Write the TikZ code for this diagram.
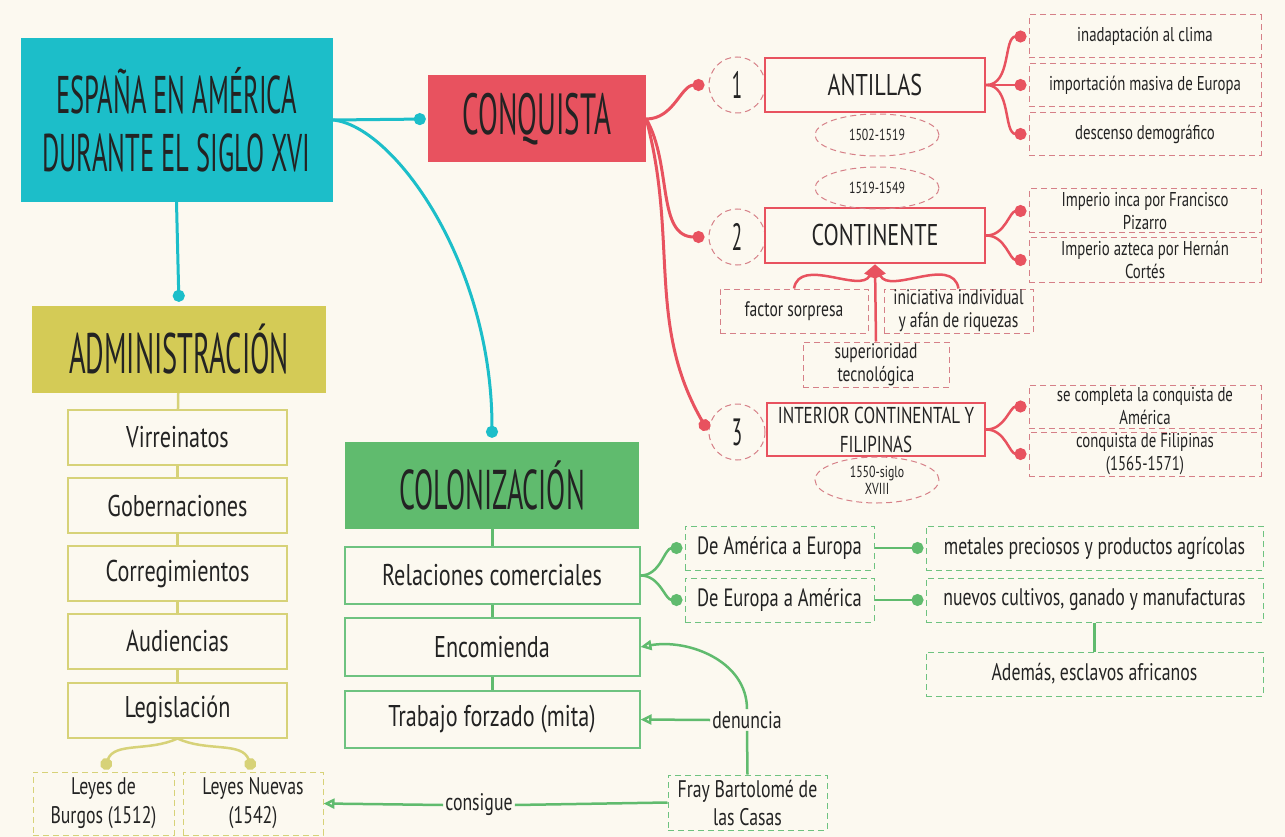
\documentclass[tikz,border=0pt]{standalone}
\usepackage{fontspec}
\setmainfont{PT Sans}[FakeStretch=0.74]
\newfontfamily\titulofont{PT Sans}[FakeStretch=0.5]
\usepackage{tikz}
\usetikzlibrary{positioning, arrows.meta, calc, shapes.geometric}
\definecolor{Fondo}{RGB}{252,249,240}
\definecolor{Turquesa}{RGB}{28,190,201}
\definecolor{Rojo}{RGB}{232,82,95}
\definecolor{Oliva}{RGB}{212,203,86}
\definecolor{Verde}{RGB}{96,187,110}
\definecolor{Texto}{RGB}{35,35,35}
\definecolor{RojoTenue}{RGB}{214,128,136}
\definecolor{OlivaLinea}{RGB}{215,210,120}
\definecolor{VerdeLinea}{RGB}{110,195,128}

\begin{document}
\begin{tikzpicture}[x=1pt, y=-1pt, text=Texto, font=\fontsize{30}{34}\selectfont,
  tema/.style={rectangle, inner sep=0pt, align=center},
  caja/.style={rectangle, draw, line width=2pt, fill=Fondo, inner sep=0pt, align=center},
  nota/.style={rectangle, draw, dash pattern=on 6pt off 4pt, line width=1pt, fill=Fondo, inner sep=0pt, align=center},
  fecha/.style={ellipse, draw=RojoTenue, dash pattern=on 6pt off 4pt, line width=1pt, minimum width=124, minimum height=42, inner sep=0pt, align=center, font=\fontsize{16}{17}\selectfont},
  numero/.style={circle, draw=RojoTenue, dash pattern=on 6pt off 4pt, line width=1pt, minimum size=56, inner sep=0pt, font=\titulofont\fontsize{38}{38}\selectfont},
  punto/.style={-{Circle[length=12pt]}, shorten >=2pt},
  abierta/.style={-{Triangle[open, length=11pt, width=10pt, fill=Fondo]}},
  etiqueta/.style={inner sep=2pt, font=\fontsize{24}{26}\selectfont}]
  \fill[Fondo] (0,0) rectangle (1285,837);
  \useasboundingbox (0,0) rectangle (1285,837);

  % temas principales
  \node[tema, fill=Turquesa, minimum width=312, minimum height=164, font=\titulofont\fontsize{53}{58}\selectfont] (espana) at (176.5,120) {ESPAÑA EN AMÉRICA\\DURANTE EL SIGLO XVI};
  \node[tema, fill=Rojo, minimum width=218, minimum height=87, font=\titulofont\fontsize{58}{60}\selectfont] (conquista) at (537,119) {CONQUISTA};
  \node[tema, fill=Oliva, minimum width=294, minimum height=87, font=\titulofont\fontsize{57}{60}\selectfont] (admin) at (179,349.5) {ADMINISTRACIÓN};
  \node[tema, fill=Verde, minimum width=294, minimum height=87, font=\titulofont\fontsize{56}{60}\selectfont] (colon) at (492,485.5) {COLONIZACIÓN};

  \draw[Turquesa, line width=3pt, punto] (espana.east) -- (conquista.west);
  \draw[Turquesa, line width=3pt, punto, shorten >=4pt] (espana.south) -- (admin.north);
  \draw[Turquesa, line width=3pt, punto, shorten >=4pt] (espana.east) .. controls +(60,5) and +(0,-180) .. (colon.north);

  % administracion
  \node[caja, draw=OlivaLinea, minimum width=219, minimum height=55] (virr) at (177.5,437.5) {Virreinatos};
  \node[caja, draw=OlivaLinea, minimum width=219, minimum height=55] (gob) at (177.5,505.5) {Gobernaciones};
  \node[caja, draw=OlivaLinea, minimum width=219, minimum height=55] (corr) at (177.5,573.5) {Corregimientos};
  \node[caja, draw=OlivaLinea, minimum width=219, minimum height=55] (aud) at (177.5,641.5) {Audiencias};
  \node[caja, draw=OlivaLinea, minimum width=219, minimum height=55] (leg) at (177.5,710) {Legislación};
  \node[nota, draw=OlivaLinea, minimum width=141, minimum height=63, font=\fontsize{24}{29}\selectfont] (burgos) at (103.5,803.5) {Leyes de\\Burgos (1512)};
  \node[nota, draw=OlivaLinea, minimum width=140, minimum height=63, font=\fontsize{24}{29}\selectfont] (nuevas) at (253,803.5) {Leyes Nuevas\\(1542)};

  \draw[OlivaLinea, line width=2.5pt] (admin) -- (virr);
  \draw[OlivaLinea, line width=2.5pt] (virr) -- (gob);
  \draw[OlivaLinea, line width=2.5pt] (gob) -- (corr);
  \draw[OlivaLinea, line width=2.5pt] (corr) -- (aud);
  \draw[OlivaLinea, line width=2.5pt] (aud) -- (leg);
  \draw[OlivaLinea, line width=2.5pt, punto] (leg.south) to[out=-155, in=70] (burgos.north);
  \draw[OlivaLinea, line width=2.5pt, punto] (leg.south) to[out=-25, in=110] (nuevas.north);

  % conquista
  \node[numero] (n1) at (737,85) {1};
  \node[numero] (n2) at (737,237) {2};
  \node[numero] (n3) at (737,432) {3};
  \node[caja, draw=Rojo, line width=2.5pt, minimum width=220, minimum height=54] (antillas) at (875,85) {ANTILLAS};
  \node[caja, draw=Rojo, line width=2.5pt, minimum width=220, minimum height=55] (conti) at (875,235.5) {CONTINENTE};
  \node[caja, draw=Rojo, line width=2.5pt, minimum width=218, minimum height=53, font=\fontsize{23}{29}\selectfont] (interior) at (876,429.5) {INTERIOR CONTINENTAL Y\\FILIPINAS};
  \node[fecha] (f1) at (877,135) {1502-1519};
  \node[fecha] (f2) at (877,188) {1519-1549};
  \node[fecha, minimum height=46] (f3) at (877,480) {1550-siglo\\XVIII};

  \node[nota, draw=RojoTenue, minimum width=232, minimum height=43, font=\fontsize{20}{23}\selectfont] (inad) at (1145,36.5) {inadaptación al clima};
  \node[nota, draw=RojoTenue, minimum width=232, minimum height=43, font=\fontsize{20}{23}\selectfont] (impor) at (1145,85) {importación masiva de Europa};
  \node[nota, draw=RojoTenue, minimum width=232, minimum height=43, font=\fontsize{20}{23}\selectfont] (desc) at (1145,134) {descenso demográfico};
  \node[nota, draw=RojoTenue, minimum width=232, minimum height=44, font=\fontsize{20}{23}\selectfont] (inca) at (1145,211) {Imperio inca por Francisco\\Pizarro};
  \node[nota, draw=RojoTenue, minimum width=232, minimum height=44, font=\fontsize{20}{23}\selectfont] (azteca) at (1145,260) {Imperio azteca por Hernán\\Cortés};
  \node[nota, draw=RojoTenue, minimum width=232, minimum height=43, font=\fontsize{20}{23}\selectfont] (completa) at (1145,406.5) {se completa la conquista de\\América};
  \node[nota, draw=RojoTenue, minimum width=232, minimum height=44, font=\fontsize{20}{23}\selectfont] (filipinas) at (1145,454) {conquista de Filipinas\\(1565-1571)};
  \node[nota, draw=RojoTenue, minimum width=148, minimum height=44, font=\fontsize{21}{23}\selectfont] (sorpresa) at (794,311) {factor sorpresa};
  \node[nota, draw=RojoTenue, minimum width=149, minimum height=44, font=\fontsize{21}{23}\selectfont] (iniciativa) at (958.5,311) {iniciativa individual\\y afán de riquezas};
  \node[nota, draw=RojoTenue, minimum width=146, minimum height=45, font=\fontsize{21}{23}\selectfont] (superior) at (876,364.5) {superioridad\\tecnológica};

  \draw[Rojo, line width=3pt, punto, shorten >=4pt] (conquista.east) to[out=0, in=180] (n1.west);
  \draw[Rojo, line width=3pt, punto, shorten >=4pt] (conquista.east) to[out=-60, in=180] (n2.west);
  \draw[Rojo, line width=3pt, punto, shorten >=2pt] (conquista.east) to[out=-75, in=120] (n3.west);
  \draw[Rojo, line width=2.5pt, punto] (antillas.east) to[out=0, in=180] (inad.west);
  \draw[Rojo, line width=2.5pt, punto] (antillas.east) -- (impor.west);
  \draw[Rojo, line width=2.5pt, punto] (antillas.east) to[out=0, in=180] (desc.west);
  \draw[Rojo, line width=2.5pt, punto] (conti.east) to[out=0, in=180] (inca.west);
  \draw[Rojo, line width=2.5pt, punto] (conti.east) to[out=0, in=180] (azteca.west);
  \draw[Rojo, line width=2.5pt, punto] (interior.east) to[out=0, in=180] (completa.west);
  \draw[Rojo, line width=2.5pt, punto] (interior.east) to[out=0, in=180] (filipinas.west);
  \draw[Rojo, line width=2.5pt, -{Triangle[length=13pt, width=11pt]}] (sorpresa.north) to[out=80, in=-115] (conti.south);
  \draw[Rojo, line width=2.5pt, -{Triangle[length=13pt, width=11pt]}] (iniciativa.north) to[out=100, in=-65] (conti.south);
  \draw[Rojo, line width=2.5pt, -{Triangle[length=13pt, width=11pt]}] (superior.north) -- (conti.south);

  % colonizacion
  \node[caja, draw=VerdeLinea, minimum width=295, minimum height=57] (relac) at (492,575.5) {Relaciones comerciales};
  \node[caja, draw=VerdeLinea, minimum width=295, minimum height=58] (encom) at (492,647) {Encomienda};
  \node[caja, draw=VerdeLinea, minimum width=295, minimum height=57] (trabajo) at (492,719.5) {Trabajo forzado (mita)};
  \node[nota, draw=VerdeLinea, minimum width=189, minimum height=44, font=\fontsize{25}{28}\selectfont] (amereu) at (779.5,548) {De América a Europa};
  \node[nota, draw=VerdeLinea, minimum width=189, minimum height=44, font=\fontsize{25}{28}\selectfont] (euramer) at (779.5,600) {De Europa a América};
  \node[nota, draw=VerdeLinea, minimum width=337, minimum height=44, font=\fontsize{24}{28}\selectfont] (metales) at (1094.5,548) {metales preciosos y productos agrícolas};
  \node[nota, draw=VerdeLinea, minimum width=337, minimum height=44, font=\fontsize{24}{28}\selectfont] (cultivos) at (1094.5,600) {nuevos cultivos, ganado y manufacturas};
  \node[nota, draw=VerdeLinea, minimum width=337, minimum height=44, font=\fontsize{24}{28}\selectfont] (esclavos) at (1094.5,674) {Además, esclavos africanos};
  \node[nota, draw=VerdeLinea, minimum width=159, minimum height=55, font=\fontsize{24}{28}\selectfont] (fray) at (747.5,802.5) {Fray Bartolomé de\\las Casas};
  \node[etiqueta] (denuncia) at (747,720) {denuncia};
  \node[etiqueta] (consigue) at (479,805) {consigue};

  \draw[Verde, line width=3pt] (colon) -- (relac);
  \draw[Verde, line width=3pt] (relac) -- (encom);
  \draw[Verde, line width=3pt] (encom) -- (trabajo);
  \draw[Verde, line width=2.5pt, punto] (relac.east) to[out=0, in=180] (amereu.west);
  \draw[Verde, line width=2.5pt, punto] (relac.east) to[out=0, in=180] (euramer.west);
  \draw[Verde, line width=2.5pt, punto] (amereu.east) -- (metales.west);
  \draw[Verde, line width=2.5pt, punto] (euramer.east) -- (cultivos.west);
  \draw[Verde, line width=2.5pt] (cultivos.south) -- (esclavos.north);
  \draw[Verde, line width=2.5pt] (fray.north) -- (denuncia.south);
  \draw[Verde, line width=2.5pt, abierta] (denuncia.north) to[out=90, in=10] (encom.east);
  \draw[Verde, line width=2.5pt, abierta] (denuncia.west) -- (trabajo.east);
  \draw[Verde, line width=2.5pt] (fray.west) -- (consigue.east);
  \draw[Verde, line width=2.5pt, abierta] (consigue.west) -- (nuevas.east);
\end{tikzpicture}
\end{document}
